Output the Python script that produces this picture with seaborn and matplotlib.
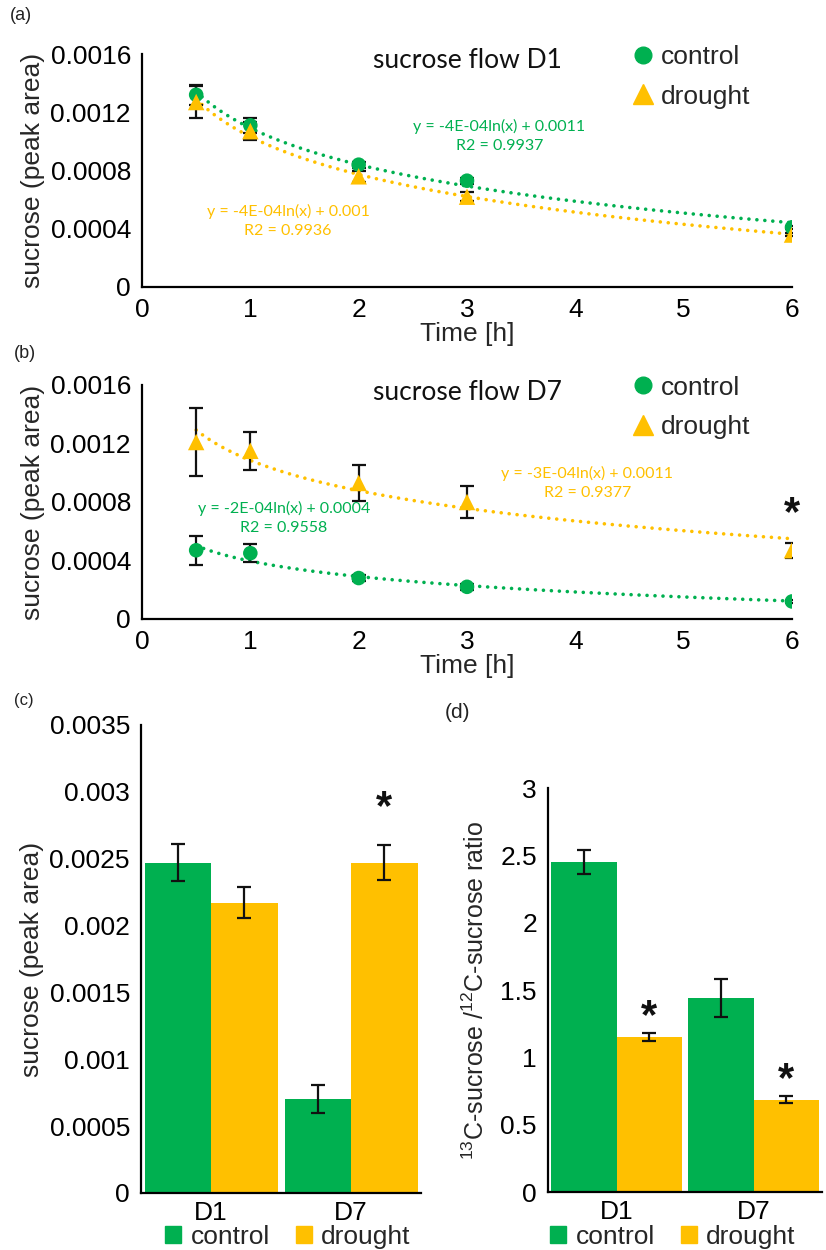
import numpy as np
import pandas as pd
import matplotlib
matplotlib.use("Agg")
import matplotlib.pyplot as plt
import seaborn as sns
from matplotlib.lines import Line2D
from matplotlib.ticker import FuncFormatter, MultipleLocator

sns.set_theme(style="white")
plt.rcParams['font.family'] = ['Liberation Sans', 'DejaVu Sans']
plt.rcParams['mathtext.default'] = 'regular'

GREEN = '#00B050'
GOLD = '#FFC000'

# panel (a) - sucrose flow D1
time_h = [0.5, 1, 2, 3, 6]
d1_control = [0.00132, 0.00111, 0.00084, 0.00073, 0.00041]
d1_control_err = [0.00007, 0.00005, 0.00002, 0.00002, 0.00001]
d1_drought = [0.00127, 0.00107, 0.00076, 0.00062, 0.00036]
d1_drought_err = [0.00011, 0.00006, 0.00004, 0.00003, 0.00001]

# panel (b) - sucrose flow D7
d7_control = [0.00047, 0.00045, 0.00028, 0.00022, 0.00012]
d7_control_err = [0.00010, 0.00006, 0.00002, 0.00002, 0.00001]
d7_drought = [0.00121, 0.00115, 0.00093, 0.00080, 0.00047]
d7_drought_err = [0.00023, 0.00013, 0.00012, 0.00011, 0.00005]

# panel (c) - sucrose totals, panel (d) - 13C/12C ratio
days = ['D1', 'D7']
groups = ['control', 'drought']
sucrose_control = [0.00247, 0.000705]
sucrose_control_err = [0.00014, 0.000105]
sucrose_drought = [0.00217, 0.00247]
sucrose_drought_err = [0.000115, 0.00013]
ratio_control = [2.45, 1.44]
ratio_control_err = [0.09, 0.14]
ratio_drought = [1.15, 0.685]
ratio_drought_err = [0.03, 0.025]

W, H = 826, 1250
fig = plt.figure(figsize=(W / 100, H / 100), dpi=100)


def px_axes(l, t, r, b):
    return fig.add_axes([l / W, 1 - b / H, (r - l) / W, (b - t) / H])


fmt_g = FuncFormatter(lambda v, p: '%g' % round(v, 6))
TICK_FS = 19
EQ_FONT = ['Lato', 'DejaVu Sans']


def style_axes(ax):
    sns.despine(ax=ax)
    for s in ['left', 'bottom']:
        ax.spines[s].set_color('black')
        ax.spines[s].set_linewidth(1.6)
    ax.tick_params(axis='both', which='major', direction='out', length=6, width=1.5,
                   color='black', labelsize=TICK_FS, labelcolor='black', pad=2)
    ax.tick_params(axis='y', which='minor', direction='out', length=5, width=1.5, color='black')


def flow_panel(ax, ctrl, ctrl_err, drt, drt_err, title, eqs):
    dots = dict(ls=(0, (0.01, 2.2)), lw=2.6, dash_capstyle='round')
    sns.regplot(x=time_h, y=ctrl, logx=True, ci=None, scatter=False, ax=ax,
                color=GREEN, line_kws=dots)
    sns.regplot(x=time_h, y=drt, logx=True, ci=None, scatter=False, ax=ax,
                color=GOLD, line_kws=dots)
    ax.errorbar(time_h, ctrl, yerr=ctrl_err, fmt='none', ecolor='#111111',
                elinewidth=1.6, capsize=5, capthick=1.6, zorder=3)
    ax.errorbar(time_h, drt, yerr=drt_err, fmt='none', ecolor='#111111',
                elinewidth=1.6, capsize=5, capthick=1.6, zorder=3)
    sns.scatterplot(x=time_h, y=ctrl, marker='o', s=110, color=GREEN, edgecolor='none',
                    ax=ax, zorder=4)
    sns.scatterplot(x=time_h, y=drt, marker='^', s=140, color=GOLD, edgecolor='none',
                    ax=ax, zorder=4)
    ax.set_xlim(0, 6)
    ax.set_ylim(0, 0.0016)
    ax.yaxis.set_major_locator(MultipleLocator(0.0004))
    ax.yaxis.set_minor_locator(MultipleLocator(0.0002))
    ax.yaxis.set_major_formatter(fmt_g)
    ax.set_xticks(range(7))
    style_axes(ax)
    ax.set_xlabel('Time [h]', fontsize=TICK_FS, labelpad=0)
    ax.set_ylabel('sucrose (peak area)', fontsize=TICK_FS, labelpad=4)
    ax.text(0.50, 0.97, title, transform=ax.transAxes, ha='center', va='center',
            fontsize=19, family=EQ_FONT, color='#111111')
    for (x, y, text, col) in eqs:
        ax.text(x, y, text, transform=ax.transAxes, ha='center', va='center',
                fontsize=11.5, family=EQ_FONT, color=col, linespacing=1.45)
    handles = [Line2D([], [], ls='none', marker='o', ms=12, color=GREEN),
               Line2D([], [], ls='none', marker='^', ms=14, color=GOLD)]
    ax.legend(handles, groups, loc='upper left', bbox_to_anchor=(0.73, 1.085),
              frameon=False, fontsize=TICK_FS, handletextpad=0.1, labelspacing=0.6,
              borderaxespad=0, handlelength=1.2)


ax_a = px_axes(142, 54, 792, 287)
flow_panel(ax_a, d1_control, d1_control_err, d1_drought, d1_drought_err, 'sucrose flow D1',
           [(0.55, 0.65, 'y = -4E-04ln(x) + 0.0011\nR2 = 0.9937', GREEN),
            (0.225, 0.285, 'y = -4E-04ln(x) + 0.001\nR2 = 0.9936', GOLD)])

ax_b = px_axes(142, 385, 792, 619)
flow_panel(ax_b, d7_control, d7_control_err, d7_drought, d7_drought_err, 'sucrose flow D7',
           [(0.218, 0.43, 'y = -2E-04ln(x) + 0.0004\nR2 = 0.9558', GREEN),
            (0.685, 0.58, 'y = -3E-04ln(x) + 0.0011\nR2 = 0.9377', GOLD)])
ax_b.text(time_h[-1], d7_drought[-1] + d7_drought_err[-1] + 0.0002, '*',
          ha='center', va='center', fontsize=30, fontweight='bold', color='#111111')


def bar_panel(ax, ctrl, ctrl_err, drt, drt_err, legend_x):
    df = pd.DataFrame({'day': days * 2,
                       'group': [groups[0]] * 2 + [groups[1]] * 2,
                       'value': ctrl + drt})
    sns.barplot(data=df, x='day', y='value', hue='group', order=days, hue_order=groups,
                palette=[GREEN, GOLD], saturation=1, width=0.95, errorbar=None,
                edgecolor='none', ax=ax)
    errs = [ctrl_err, drt_err]
    for cont, err in zip(ax.containers, errs):
        xs = [b.get_x() + b.get_width() / 2 for b in cont]
        ys = [b.get_height() for b in cont]
        ax.errorbar(xs, ys, yerr=err, fmt='none', ecolor='#111111', elinewidth=1.6,
                    capsize=5, capthick=1.6, zorder=3)
    ax.set_xlim(-0.5, 1.5)
    ax.yaxis.set_major_formatter(fmt_g)
    style_axes(ax)
    ax.tick_params(axis='x', length=0, pad=6)
    ax.set_xlabel('')
    handles = [plt.Rectangle((0, 0), 1, 1, color=GREEN), plt.Rectangle((0, 0), 1, 1, color=GOLD)]
    ax.legend(handles, groups, loc='center', bbox_to_anchor=(legend_x / W, 1 - 1237 / H),
              bbox_transform=fig.transFigure,
              ncol=2, frameon=False, fontsize=TICK_FS, handlelength=0.6, handleheight=0.6,
              handletextpad=0.35, columnspacing=1.0, borderaxespad=0)
    return ax


ax_c = px_axes(141, 725, 421, 1193)
bar_panel(ax_c, sucrose_control, sucrose_control_err, sucrose_drought, sucrose_drought_err, 288)
ax_c.set_ylim(0, 0.0035)
ax_c.yaxis.set_major_locator(MultipleLocator(0.0005))
ax_c.set_ylabel('sucrose (peak area)', fontsize=TICK_FS, labelpad=4)
bc = ax_c.containers[1][1]
ax_c.text(bc.get_x() + bc.get_width() / 2, sucrose_drought[1] + sucrose_drought_err[1] + 0.00028,
          '*', ha='center', va='center', fontsize=30, fontweight='bold', color='#111111')

ax_d = px_axes(548, 788, 822, 1192)
bar_panel(ax_d, ratio_control, ratio_control_err, ratio_drought, ratio_drought_err, 673)
ax_d.set_ylim(0, 3)
ax_d.yaxis.set_major_locator(MultipleLocator(0.5))
ax_d.set_ylabel(r'$^{13}$C-sucrose /$^{12}$C-sucrose ratio', fontsize=18, labelpad=8)
for i, b in enumerate(ax_d.containers[1]):
    ax_d.text(b.get_x() + b.get_width() / 2, ratio_drought[i] + ratio_drought_err[i] + 0.12,
              '*', ha='center', va='center', fontsize=30, fontweight='bold', color='#111111')

for (x, y, lab, fs) in [(10, 15, '(a)', 13), (14, 353, '(b)', 13), (14, 700, '(c)', 12),
                        (445, 712, '(d)', 15)]:
    fig.text(x / W, 1 - y / H, lab, ha='left', va='center', fontsize=fs, color='#222222')

fig.savefig('out.png', dpi=100)
